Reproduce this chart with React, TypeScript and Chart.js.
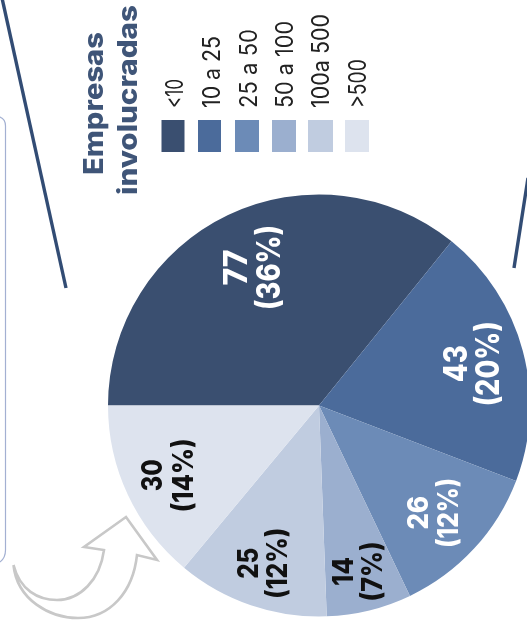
import React, { useEffect, useRef } from "react";
import { Chart, registerables } from "chart.js";

Chart.register(...registerables);

const categories = ["<10", "10 a 25", "25 a 50", "50 a 100", "100a 500", ">500"];
const values = [77, 43, 26, 14, 25, 30];
const percents = [36, 20, 12, 7, 12, 14];
const colors = ["#3a4f70", "#4b6b9b", "#6c8bb7", "#9bafcf", "#c0cce0", "#dde3ee"];
const textColors = ["#ffffff", "#ffffff", "#ffffff", "#111111", "#111111", "#111111"];
const titleLines = ["Empresas", "involucradas"];

const FONT = "Inter, 'Noto Sans', sans-serif";

function vText(ctx: CanvasRenderingContext2D, text: string, baseX: number, yStart: number, length: number, font: string, color: string) {
  ctx.save();
  ctx.font = font;
  ctx.fillStyle = color;
  ctx.textAlign = "left";
  ctx.textBaseline = "alphabetic";
  const w = ctx.measureText(text).width;
  ctx.translate(baseX, yStart);
  ctx.rotate(-Math.PI / 2);
  ctx.scale(length / w, 1);
  ctx.fillText(text, 0, 0);
  ctx.restore();
}

const decorPlugin = {
  id: "decor",
  beforeDraw(chart: any) {
    const ctx: CanvasRenderingContext2D = chart.ctx;
    ctx.save();
    // rounded panel edge
    ctx.strokeStyle = "#a3b0d2";
    ctx.lineWidth = 1.2;
    ctx.beginPath();
    ctx.moveTo(-5, 115.5);
    ctx.lineTo(0, 117);
    ctx.quadraticCurveTo(5.5, 119, 5.5, 126);
    ctx.lineTo(5.5, 550);
    ctx.quadraticCurveTo(5.5, 558, 0, 562);
    ctx.stroke();
    // diagonal rules
    ctx.strokeStyle = "#324c74";
    ctx.lineWidth = 3.4;
    ctx.beginPath();
    ctx.moveTo(2, -2);
    ctx.lineTo(66, 288);
    ctx.stroke();
    ctx.beginPath();
    ctx.moveTo(528, 178);
    ctx.lineTo(514, 268);
    ctx.stroke();
    // arrow outline
    ctx.strokeStyle = "#c8c8c8";
    ctx.lineWidth = 2.6;
    ctx.lineJoin = "miter";
    ctx.beginPath();
    ctx.moveTo(13.5, 565);
    ctx.bezierCurveTo(17, 600, 50, 618, 78, 618);
    ctx.bezierCurveTo(110, 618, 133, 592, 137, 555);
    ctx.lineTo(157, 560);
    ctx.lineTo(126, 517);
    ctx.lineTo(84, 547);
    ctx.lineTo(104, 550);
    ctx.bezierCurveTo(100, 580, 80, 600, 57, 600);
    ctx.bezierCurveTo(38, 600, 20, 590, 13.5, 565);
    ctx.stroke();
    ctx.restore();

    // legend title
    const tFont = `800 27px ${FONT}`;
    vText(ctx, titleLines[0], 103, 175, 143, tFont, "#3f5578");
    vText(ctx, titleLines[1], 137, 195, 190, tFont, "#3f5578");

    // legend swatches and labels
    const swX = [161.5, 198, 235, 272, 308, 345];
    const swW = [23, 23, 24, 24, 25, 24];
    const base = [183, 220, 257, 293, 329, 366];
    const len = [29, 72, 79, 87, 94, 49];
    categories.forEach((c, i) => {
      ctx.fillStyle = colors[i];
      ctx.fillRect(swX[i], 120, swW[i], 32);
      vText(ctx, c, base[i], 108, len[i], `400 24px ${FONT}`, "#222222");
    });
  },
  afterDatasetsDraw(chart: any) {
    const ctx: CanvasRenderingContext2D = chart.ctx;
    const arcs = chart.getDatasetMeta(0).data;
    const radial = [0.725, 0.76, 0.75, 0.81, 0.79, 0.78];
    const size = [32, 32, 28, 28, 28, 28];
    const l1 = [36, 37, 34, 29, 31, 32];
    const l2 = [85, 85, 70, 60, 71, 74];
    const off1 = [-6, -7, -7, -7, -7, -8];
    const off2 = [27, 25, 23, 22, 22, 23];
    arcs.forEach((arc: any, i: number) => {
      const mid = (arc.startAngle + arc.endAngle) / 2;
      const r = arc.outerRadius * radial[i];
      const cx = arc.x + r * Math.cos(mid);
      const cy = arc.y + r * Math.sin(mid);
      const font = `800 ${size[i]}px ${FONT}`;
      vText(ctx, String(values[i]), cx + off1[i], cy + l1[i] / 2, l1[i], font, textColors[i]);
      vText(ctx, `(${percents[i]}%)`, cx + off2[i], cy + l2[i] / 2, l2[i], font, textColors[i]);
    });
  },
};

export default function App() {
  const ref = useRef<HTMLCanvasElement>(null);
  useEffect(() => {
    document.body.style.margin = "0";
    const chart = new Chart(ref.current!, {
      type: "pie",
      data: {
        labels: categories,
        datasets: [{ data: values, backgroundColor: colors, borderWidth: 0, radius: 211 } as any],
      },
      options: {
        responsive: false,
        animation: false,
        rotation: -90,
        layout: { padding: { left: 111, top: 180, right: 0, bottom: 0 } },
        plugins: { legend: { display: false }, tooltip: { enabled: false } },
      },
      plugins: [decorPlugin as any],
    });
    return () => chart.destroy();
  }, []);
  return <canvas ref={ref} width={527} height={631} style={{ display: "block", width: 527, height: 631 }} />;
}
